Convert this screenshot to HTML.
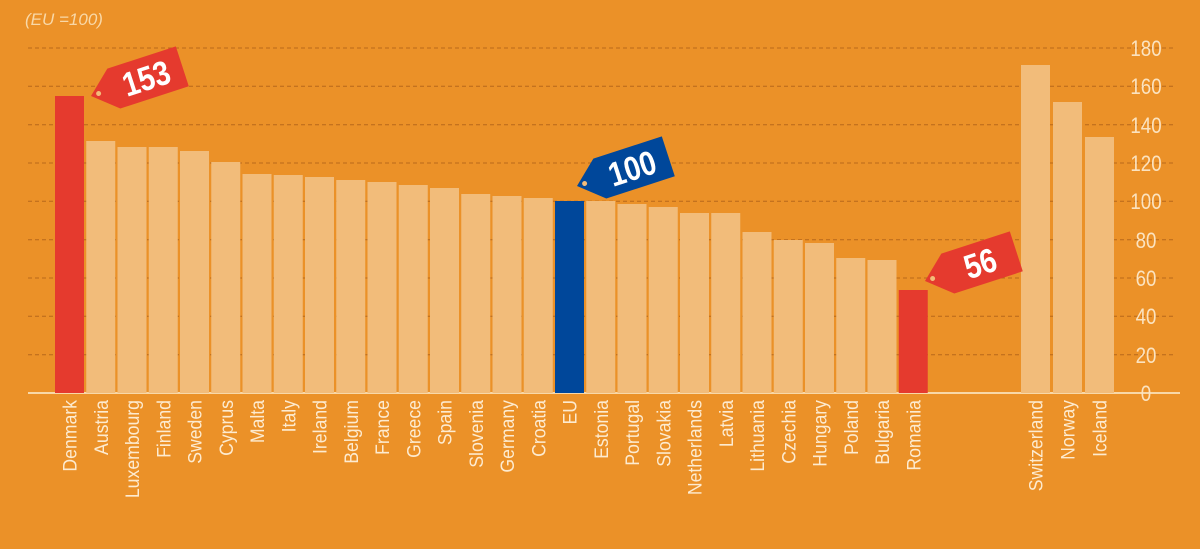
<!DOCTYPE html>
<html><head><meta charset="utf-8"><style>
html,body{margin:0;padding:0;background:#EB9128;}
svg{display:block}
</style></head><body>
<svg width="1200" height="549" viewBox="0 0 1200 549" xmlns="http://www.w3.org/2000/svg" font-family="Liberation Sans, sans-serif">
<rect width="1200" height="549" fill="#EB9128"/>
<text x="25" y="25" font-size="17" font-style="italic" fill="#F8D8A8">(EU =100)</text>
<g stroke="#B8691A" stroke-width="1" stroke-dasharray="4,3">
<line x1="28" x2="1175" y1="48" y2="48"/><line x1="28" x2="1175" y1="86.3" y2="86.3"/>
<line x1="28" x2="1175" y1="124.7" y2="124.7"/><line x1="28" x2="1175" y1="163" y2="163"/>
<line x1="28" x2="1175" y1="201.3" y2="201.3"/><line x1="28" x2="1175" y1="239.7" y2="239.7"/>
<line x1="28" x2="1175" y1="278" y2="278"/><line x1="28" x2="1175" y1="316.3" y2="316.3"/>
<line x1="28" x2="1175" y1="354.7" y2="354.7"/>
</g>
<line x1="28" x2="1180" y1="393" y2="393" stroke="#F8D8A8" stroke-width="2"/>
<g font-size="22" fill="#FBE3C0" text-anchor="middle">
<g transform="translate(1146,0) scale(0.85,1)">
<text x="0" y="56">180</text><text x="0" y="94">160</text><text x="0" y="133">140</text>
<text x="0" y="171">120</text><text x="0" y="209">100</text><text x="0" y="248">80</text>
<text x="0" y="286">60</text><text x="0" y="324">40</text><text x="0" y="363">20</text>
<text x="0" y="401">0</text>
</g></g>
<g id="bars"></g>
<g id="labels" font-size="19" fill="#FDEBD0"></g>
<g transform="translate(91,96) rotate(-18)">
<polygon points="0,0 24,-21 96,-21 96,21 24,21" fill="#E53A2E"/>
<circle cx="8" cy="0" r="2.5" fill="#F2BC7A"/>
<text x="58" y="12" font-size="34" font-weight="bold" fill="#fff" text-anchor="middle" transform="translate(58,0) scale(0.85,1) translate(-58,0)">153</text>
</g>
<g transform="translate(577,186) rotate(-18)">
<polygon points="0,0 24,-21 96,-21 96,21 24,21" fill="#00479A"/>
<circle cx="8" cy="0" r="2.5" fill="#F2BC7A"/>
<text x="58" y="12" font-size="34" font-weight="bold" fill="#fff" text-anchor="middle" transform="translate(58,0) scale(0.85,1) translate(-58,0)">100</text>
</g>
<g transform="translate(925,281) rotate(-18)">
<polygon points="0,0 24,-21 96,-21 96,21 24,21" fill="#E53A2E"/>
<circle cx="8" cy="0" r="2.5" fill="#F2BC7A"/>
<text x="58" y="12" font-size="34" font-weight="bold" fill="#fff" text-anchor="middle" transform="translate(58,0) scale(0.85,1) translate(-58,0)">56</text>
</g>
<script>
var d=[["Denmark",96,"r"],["Austria",141],["Luxembourg",147],["Finland",147],["Sweden",151],["Cyprus",162],["Malta",174],["Italy",175],["Ireland",177],["Belgium",180],["France",182],["Greece",185],["Spain",188],["Slovenia",194],["Germany",196],["Croatia",198],["EU",201,"b"],["Estonia",201],["Portugal",204],["Slovakia",207],["Netherlands",213],["Latvia",213],["Lithuania",232],["Czechia",240],["Hungary",243],["Poland",258],["Bulgaria",260],["Romania",290,"r"]];
var ns="http://www.w3.org/2000/svg",B=document.getElementById("bars"),L=document.getElementById("labels");
function add(x,top,name,c){var r=document.createElementNS(ns,"rect");r.setAttribute("x",x);r.setAttribute("y",top);r.setAttribute("width",29);r.setAttribute("height",393-top);r.setAttribute("fill",c=="r"?"#E53A2E":c=="b"?"#00479A":"#F2BC7A");B.appendChild(r);
var t=document.createElementNS(ns,"text");var cx=x+14.5+7;t.setAttribute("transform","translate("+cx+",400) rotate(-90) scale(0.93,1)");t.setAttribute("text-anchor","end");t.textContent=name;L.appendChild(t);}
d.forEach(function(e,i){add(55+i*31.25,e[1],e[0],e[2]);});
add(1021,65,"Switzerland");add(1053,102,"Norway");add(1085,137,"Iceland");
</script>
</svg>
</body></html>
